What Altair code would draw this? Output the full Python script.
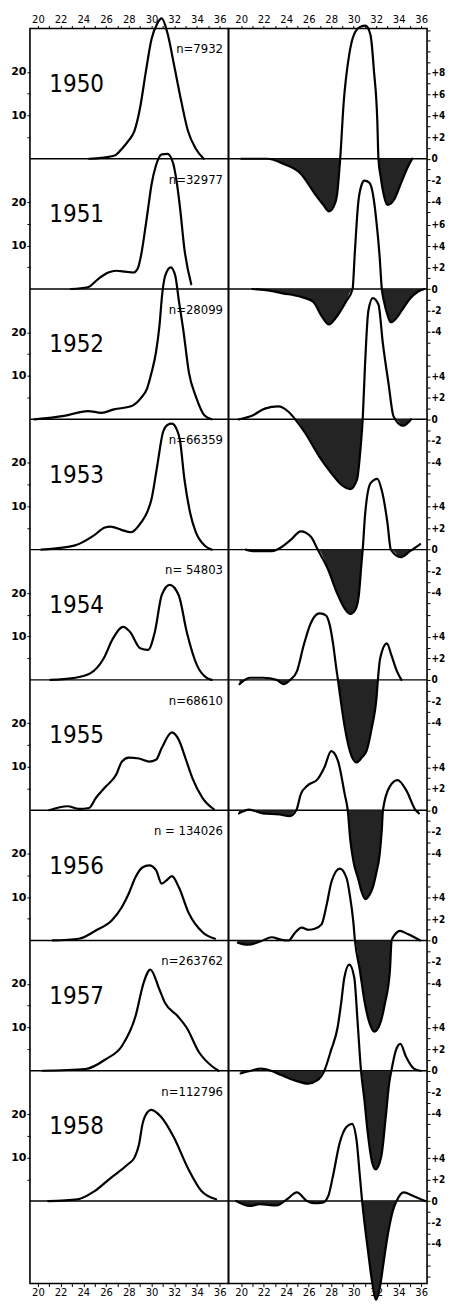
import altair as alt
import pandas as pd

# ---------------- data ----------------
YEARS = [1950, 1951, 1952, 1953, 1954, 1955, 1956, 1957, 1958]
N_LABELS = ["n=7932", "n=32977", "n=28099", "n=66359", "n= 54803",
            "n=68610", "n = 134026", "n=263762", "n=112796"]
X_TICKS = list(range(20, 37))
LEFT_TICK_STEPS = [5, 10, 15, 20]
RIGHT_LABELLED = [[8, 6, 4, 2, 0, -2, -4], [6, 4, 2, 0, -2, -4]] + [[4, 2, 0, -2, -4]] * 7

# left column: length-frequency (%) per year
L1950_X = [24.5, 25.6, 26.8, 27.4, 28.0, 28.5, 29.0, 29.5, 30.0, 30.5, 30.9, 31.4, 32.0, 32.6, 33.2, 33.9, 34.6]
L1950_Y = [0, 0.2, 0.8, 2.3, 4.2, 6.4, 11.8, 20.0, 27.5, 31.1, 32.3, 29.0, 21.4, 13.5, 6.5, 2.3, 0]
L1951_X = [22.9, 24.4, 25.3, 26.2, 26.9, 27.7, 28.4, 28.8, 29.1, 29.4, 29.7, 30.0, 30.4, 30.9, 31.4, 31.9, 32.2, 32.5, 32.9, 33.5]
L1951_Y = [0, 0.4, 2.3, 3.8, 4.2, 4.0, 3.8, 4.8, 8.0, 13.0, 18.5, 24.0, 28.5, 31.0, 31.1, 29.0, 25.0, 19.0, 9.2, 1.1]
L1952_X = [19.7, 22.3, 24.4, 25.6, 26.7, 28.2, 29.1, 29.6, 30.0, 30.4, 30.7, 30.95, 31.2, 31.7, 32.1, 32.4, 32.8, 33.3, 33.9, 34.7, 35.3]
L1952_Y = [0, 0.8, 1.9, 1.5, 2.3, 3.0, 5.0, 7.0, 10.7, 15.5, 21.5, 29.0, 33.0, 35.0, 33.0, 27.5, 20.6, 10.7, 5.3, 0.8, 0]
L1953_X = [20.3, 23.2, 24.9, 25.9, 26.4, 27.3, 28.2, 29.1, 29.6, 30.0, 30.5, 31.0, 31.4, 31.8, 32.2, 32.5, 32.9, 33.4, 33.9, 34.7, 35.3]
L1953_Y = [0, 0.9, 3.2, 5.1, 5.3, 4.6, 4.0, 6.3, 8.5, 11.6, 19.2, 26.9, 28.7, 29.0, 27.8, 25.3, 16.2, 8.5, 4.0, 0.9, 0]
L1954_X = [21.1, 23.1, 24.6, 25.8, 26.6, 27.5, 28.1, 29.0, 29.7, 30.3, 30.9, 31.6, 32.4, 33.1, 34.0, 34.9, 35.3]
L1954_Y = [0, 0.4, 1.5, 5.0, 9.5, 12.2, 11.1, 7.3, 6.9, 11.1, 19.5, 21.9, 19.5, 11.1, 3.4, 0.4, 0]
L1955_X = [21.0, 22.6, 23.6, 24.5, 25.1, 26.0, 26.9, 27.4, 28.0, 28.9, 29.8, 30.4, 30.9, 31.8, 32.4, 33.0, 33.6, 34.5, 35.5]
L1955_Y = [0, 0.9, 0.3, 0.5, 2.8, 5.5, 8.2, 11.2, 12.1, 11.9, 11.2, 11.6, 14.3, 17.9, 16.2, 11.9, 7.4, 2.8, 0.2]
L1956_X = [21.3, 23.6, 25.1, 26.5, 27.4, 28.0, 28.6, 29.2, 29.8, 30.4, 30.9, 31.3, 31.8, 32.4, 33.3, 34.5, 35.6]
L1956_Y = [0, 0.4, 2.3, 4.6, 7.7, 10.8, 14.6, 16.8, 17.3, 16.2, 13.1, 13.8, 14.8, 12.3, 6.2, 1.9, 0.4]
L1957_X = [20.4, 24.2, 26.0, 27.4, 28.6, 29.3, 29.9, 30.7, 31.2, 32.3, 33.1, 34.2, 35.3, 35.9]
L1957_Y = [0, 0.4, 2.7, 5.7, 12.6, 20.2, 23.3, 18.7, 15.6, 12.6, 9.9, 4.2, 1.1, 0]
L1958_X = [20.9, 23.5, 25.0, 26.4, 27.9, 28.5, 28.9, 29.2, 29.7, 30.0, 30.8, 32.0, 33.2, 34.4, 35.7]
L1958_Y = [0, 0.4, 2.3, 5.3, 8.4, 10.0, 13.0, 17.6, 20.6, 21.0, 19.5, 14.5, 7.6, 2.3, 0.4]

# right column: differences between successive distributions
R1950_X = [20.0, 22.3, 23.8, 25.3, 26.5, 27.3, 27.8, 28.2, 28.5, 28.8, 29.1, 29.6, 30.0, 30.6, 31.05, 31.5, 31.8, 32.1, 32.2, 32.4, 32.7, 33.0, 33.6, 34.2, 34.8, 35.2]
R1950_Y = [0, 0, -0.5, -1.4, -3.2, -4.3, -4.9, -4.5, -3.5, 0, 5.1, 9.7, 11.5, 12.3, 12.4, 11.5, 8.2, 3.5, 0, -1.7, -3.5, -4.3, -3.8, -2.3, -0.8, 0]
R1951_X = [21.0, 22.2, 23.7, 25.2, 26.4, 27.2, 27.8, 28.4, 29.3, 29.9, 30.1, 30.4, 30.7, 30.95, 31.4, 31.7, 32.0, 32.3, 32.5, 32.7, 33.0, 33.3, 33.8, 34.4, 35.0, 35.7, 36.3]
R1951_Y = [0, -0.1, -0.4, -0.7, -1.2, -2.6, -3.3, -2.7, -1.2, 0, 3.4, 8.0, 9.7, 10.1, 9.9, 8.9, 6.5, 3.1, 0, -1.2, -2.4, -3.1, -2.7, -1.8, -0.9, -0.25, 0]
R1952_X = [19.8, 20.9, 22.1, 23.3, 24.2, 24.8, 25.7, 26.9, 28.0, 28.9, 29.7, 30.3, 30.6, 30.8, 31.0, 31.3, 31.7, 32.2, 32.6, 33.1, 33.5, 33.7, 34.4, 35.1]
R1952_Y = [0, 0.3, 1.0, 1.2, 0.7, 0, -1.3, -3.4, -5.0, -6.1, -6.5, -5.6, -2.8, 0, 4.9, 10.1, 11.3, 10.7, 7.0, 3.3, 0.4, 0, -0.6, 0]
R1953_X = [20.4, 21.2, 22.7, 23.2, 24.4, 25.3, 26.2, 26.8, 27.7, 28.5, 29.2, 29.7, 30.15, 30.45, 30.7, 30.8, 31.0, 31.5, 32.1, 32.5, 33.0, 33.3, 34.2, 35.0, 35.9]
R1953_Y = [0, -0.15, -0.15, 0, 0.9, 1.7, 1.2, 0, -1.8, -4.0, -5.5, -6.0, -5.6, -4.3, -1.2, 0, 3.1, 6.2, 6.6, 5.5, 2.5, 0, -0.7, -0.15, 0.5]
R1954_X = [19.85, 20.75, 21.95, 23.15, 23.75, 24.35, 24.95, 25.55, 26.15, 26.7, 27.0, 27.55, 27.85, 28.15, 28.45, 28.6, 28.78, 29.22, 29.65, 30.25, 30.75, 31.15, 31.6, 32.05, 32.15, 32.35, 32.95, 33.35, 33.85, 34.25]
R1954_Y = [-0.4, 0.2, 0.2, 0, -0.4, 0, 0.8, 3.2, 5.2, 6.1, 6.2, 6.0, 5.2, 3.5, 1.1, 0, -1.4, -4.5, -6.6, -7.7, -7.2, -6.6, -4.5, -1.4, 0, 2.0, 3.4, 2.3, 0.8, 0]
R1955_X = [19.8, 20.7, 21.9, 23.4, 24.3, 24.9, 25.3, 25.9, 26.8, 27.4, 28.0, 28.6, 29.2, 29.47, 29.7, 30.0, 30.4, 30.7, 31.04, 31.4, 31.7, 32.0, 32.3, 32.5, 32.6, 33.2, 33.9, 34.7, 35.5, 35.8]
R1955_Y = [-0.3, 0.05, -0.3, -0.4, -0.55, 0, 1.5, 2.3, 2.9, 4.0, 5.5, 4.6, 1.5, 0, -2.8, -4.9, -6.4, -7.6, -8.3, -7.9, -7.2, -5.9, -4.2, -1.8, 0, 2.2, 2.8, 1.8, 0, -0.3]
R1956_X = [19.7, 20.6, 21.8, 22.7, 23.6, 24.2, 24.77, 25.37, 26.0, 26.55, 27.14, 27.59, 28.03, 28.77, 29.37, 29.66, 29.96, 30.11, 30.55, 31.0, 31.44, 31.83, 32.33, 32.77, 33.22, 33.37, 33.7, 34.1, 34.8, 35.9]
R1956_Y = [-0.2, -0.4, -0.05, 0.3, 0.05, 0, 0.7, 1.2, 1.0, 1.1, 1.5, 3.3, 5.5, 6.7, 5.8, 4.2, 1.8, 0, -2.8, -5.9, -7.8, -8.5, -7.8, -5.9, -2.8, 0, 0.6, 0.9, 0.6, 0]
R1957_X = [19.95, 20.85, 21.75, 22.65, 23.55, 24.75, 25.95, 26.75, 27.39, 27.98, 28.58, 28.87, 29.17, 29.61, 30.05, 30.35, 30.65, 30.95, 31.25, 31.65, 31.95, 32.45, 32.85, 33.15, 33.35, 33.75, 34.15, 34.65, 35.35, 35.95]
R1957_Y = [-0.25, 0, 0.2, 0, -0.4, -0.9, -1.2, -0.9, 0, 1.9, 4.1, 6.2, 8.7, 9.9, 8.7, 4.5, 0, -2.7, -5.8, -8.6, -9.2, -8.0, -4.3, -1.2, 0, 1.9, 2.5, 1.3, 0.2, 0]
R1958_X = [19.55, 20.75, 21.65, 23.15, 24.05, 24.95, 25.85, 26.45, 27.25, 27.75, 28.15, 28.75, 29.35, 29.85, 30.25, 30.55, 30.75, 30.99, 31.29, 31.59, 32.0, 32.35, 32.62, 33.07, 33.51, 33.81, 34.45, 35.25, 36.35]
R1958_Y = [0, -0.45, -0.3, -0.4, 0.15, 0.8, 0, -0.2, -0.15, 0.5, 2.3, 5.4, 6.9, 7.2, 5.7, 2.3, 0, -2.3, -4.8, -7.2, -9.2, -7.9, -6.0, -2.9, -0.8, 0, 0.8, 0.5, 0]

LEFT_X = [L1950_X, L1951_X, L1952_X, L1953_X, L1954_X, L1955_X, L1956_X, L1957_X, L1958_X]
LEFT_Y = [L1950_Y, L1951_Y, L1952_Y, L1953_Y, L1954_Y, L1955_Y, L1956_Y, L1957_Y, L1958_Y]
RIGHT_X = [R1950_X, R1951_X, R1952_X, R1953_X, R1954_X, R1955_X, R1956_X, R1957_X, R1958_X]
RIGHT_Y = [R1950_Y, R1951_Y, R1952_Y, R1953_Y, R1954_Y, R1955_Y, R1956_Y, R1957_Y, R1958_Y]

# ---------------- layout constants ----------------
BAND = 30          # vertical units per year band (left scale, %)
K = 2.47           # right-hand difference unit expressed in left units
bases = [(len(YEARS) - 1 - i) * BAND for i in range(len(YEARS))]

COND = "DejaVu Sans Condensed, Liberation Sans Narrow, sans-serif"
FILL = "#242424"

left_rows = []
for i, yr in enumerate(YEARS):
    for x, v in zip(LEFT_X[i], LEFT_Y[i]):
        left_rows.append({"year": str(yr), "x": x, "y": bases[i] + v})
left_df = pd.DataFrame(left_rows)

right_rows = []
for i, yr in enumerate(YEARS):
    for x, d in zip(RIGHT_X[i], RIGHT_Y[i]):
        right_rows.append({"year": str(yr), "x": x, "y": bases[i] + d * K,
                           "yneg": bases[i] + min(d, 0) * K, "ybase": bases[i]})
right_df = pd.DataFrame(right_rows)

base_df = pd.DataFrame({"y": bases})
n_df = pd.DataFrame({"x": [36.3] * len(YEARS), "y": [b + 25.2 for b in bases], "text": N_LABELS})
yr_df = pd.DataFrame({"x": [21.0] * len(YEARS), "y": [b + 15.4 for b in bases], "text": [str(y) for y in YEARS]})

# ---------------- scales & axes ----------------
YS = alt.Scale(domain=[-19, 270], nice=False, zero=False)
XL = alt.Scale(domain=[19.3, 36.78], nice=False, zero=False)
XR = alt.Scale(domain=[18.87, 36.52], nice=False, zero=False)


def x_axis(orient):
    return alt.Axis(orient=orient, values=X_TICKS,
                    labelExpr="datum.value % 2 == 0 ? datum.label : ''",
                    title=None, grid=False, domain=False, tickSize=3, tickColor="black",
                    tickWidth=1, labelColor="black", labelFont="DejaVu Sans", labelFontSize=10,
                    labelPadding=1, labelFlush=False, labelOverlap=False)


left_vals = [b + s for b in bases for s in LEFT_TICK_STEPS]
left_y_axis = alt.Axis(orient="left", values=left_vals,
                       labelExpr="datum.value % 30 == 10 ? '10' : (datum.value % 30 == 20 ? '20' : '')",
                       title=None, grid=False, domain=False, tickSize=3, tickColor="black",
                       labelColor="black", labelFont="DejaVu Sans", labelFontWeight="bold",
                       labelFontSize=11, labelPadding=1, labelOverlap=False)

r_vals, r_labs = [], []
for i, b in enumerate(bases):
    lo = -5 if i < len(bases) - 1 else -7
    hi = 12 if i == 0 else 6
    for k in range(lo, hi + 1):
        r_vals.append(round(b + k * K, 4))
        if k in RIGHT_LABELLED[i]:
            r_labs.append("0" if k == 0 else f"{k:+d}")
        else:
            r_labs.append("")
vals_js = "[" + ",".join(repr(v) for v in r_vals) + "]"
labs_js = "[" + ",".join("'" + s + "'" for s in r_labs) + "]"
r_expr = f"indexof({vals_js}, datum.value) >= 0 ? {labs_js}[indexof({vals_js}, datum.value)] : ''"
right_y_axis = alt.Axis(orient="right", values=r_vals, labelExpr=r_expr,
                        title=None, grid=False, domain=False, tickSize=3, tickColor="black",
                        labelColor="black", labelFont=COND, labelFontWeight="bold",
                        labelFontSize=10, labelPadding=1, labelOverlap=False)

# ---------------- left panel ----------------
l_rules = alt.Chart(base_df).mark_rule(color="black", strokeWidth=1.4).encode(
    y=alt.Y("y:Q", scale=YS, axis=left_y_axis))
l_lines = alt.Chart(left_df).mark_line(color="black", strokeWidth=2.2, interpolate="monotone",
                                       strokeCap="round").encode(
    x=alt.X("x:Q", scale=XL, axis=x_axis("bottom")),
    y=alt.Y("y:Q", scale=YS, axis=left_y_axis),
    detail="year:N")
l_n = alt.Chart(n_df).mark_text(align="right", baseline="middle", font=COND, fontSize=13,
                                color="black").encode(
    x=alt.X("x:Q", scale=XL, axis=x_axis("top")),
    y=alt.Y("y:Q", scale=YS, axis=left_y_axis),
    text="text:N")
l_yr = alt.Chart(yr_df).mark_text(align="left", baseline="alphabetic", font=COND, fontSize=24,
                                  color="black").encode(
    x=alt.X("x:Q", scale=XL, axis=None),
    y=alt.Y("y:Q", scale=YS, axis=left_y_axis),
    text="text:N")
left = alt.layer(l_rules, l_lines, l_n, l_yr).resolve_scale(x="independent").properties(
    width=199, height=1258)

# ---------------- right panel ----------------
r_rules = alt.Chart(base_df).mark_rule(color="black", strokeWidth=1.4).encode(
    y=alt.Y("y:Q", scale=YS, axis=right_y_axis))
r_area = alt.Chart(right_df).mark_area(color=FILL, interpolate="monotone").encode(
    x=alt.X("x:Q", scale=XR, axis=x_axis("top")),
    y=alt.Y("yneg:Q", scale=YS, axis=right_y_axis),
    y2="ybase:Q",
    detail="year:N")
r_lines = alt.Chart(right_df).mark_line(color="black", strokeWidth=2.2, interpolate="monotone",
                                        strokeCap="round").encode(
    x=alt.X("x:Q", scale=XR, axis=x_axis("bottom")),
    y=alt.Y("y:Q", scale=YS, axis=right_y_axis),
    detail="year:N")
right = alt.layer(r_rules, r_area, r_lines).resolve_scale(x="independent").properties(
    width=199, height=1258)

chart = alt.hconcat(left, right, spacing=0, bounds="flush").properties(
    padding={"left": 1, "top": 3, "right": 0, "bottom": 0}
).configure_view(stroke="black", strokeWidth=1.6)

chart.save("out.html", embed_options={"renderer": "svg", "actions": False})
